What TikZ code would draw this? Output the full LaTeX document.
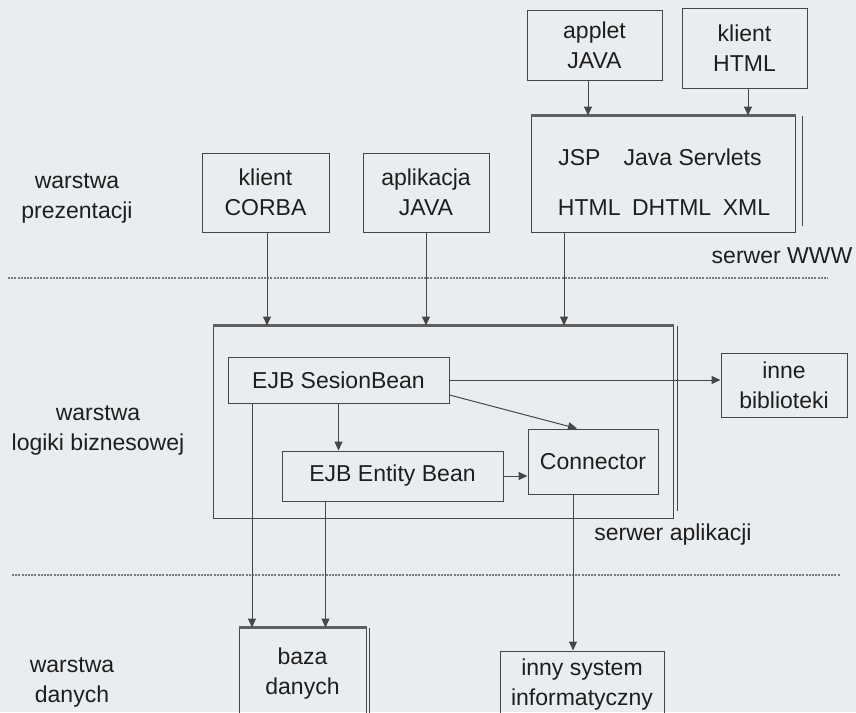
\documentclass[tikz,border=0pt]{standalone}
\usepackage{fontspec}
\setmainfont{Liberation Sans}
\usetikzlibrary{arrows.meta,calc}
\definecolor{bg}{RGB}{234,237,239}
\definecolor{ln}{RGB}{70,70,70}
\definecolor{tx}{RGB}{30,30,30}
\definecolor{topedge}{RGB}{95,95,95}
\definecolor{dotc}{RGB}{120,120,125}
\begin{document}
\begin{tikzpicture}[x=0.5pt,y=-0.5pt,
  every node/.style={font=\fontsize{11.5}{15}\selectfont, text=tx, align=center, inner sep=0pt},
  box/.style={draw=ln, line width=0.5pt},
  arr/.style={draw=ln, line width=0.5pt, -{Triangle[length=4.5pt,width=4pt]}},
  lay/.style={draw=dotc, line width=0.6pt, dash pattern=on 1pt off 0.6pt},
  heavy/.style={draw=topedge, line width=1.6pt},
  shadowline/.style={draw=ln, line width=0.5pt}]
\clip (0,0) rectangle (856,712);
\fill[bg] (0,0) rectangle (856,712);

% layer separators
\coordinate (d1a) at (8,278);
\coordinate (d1b) at (828,278);
\coordinate (d2a) at (12,575);
\coordinate (d2b) at (840,575);
\draw[lay] (d1a) -- (d1b);
\draw[lay] (d2a) -- (d2b);

% layer labels
\node (lp) at (77,198) {warstwa\\prezentacji};
\node (ll) at (98,430) {warstwa\\logiki biznesowej};
\node (ld) at (72,682) {warstwa\\danych};

% top clients
\node[box, minimum width=67.5pt, minimum height=35pt] (applet) at (594.5,45) {applet\\JAVA};
\node[box, minimum width=62.5pt, minimum height=40pt] (html) at (744.5,48) {klient\\HTML};

% web server
\node[box, minimum width=132pt, minimum height=58pt] (web) at (663,174) {};
\node (webt1) at (660,157) {JSP\quad Java Servlets};
\node (webt2) at (664,208) {HTML\enspace DHTML\enspace XML};
\draw[heavy] (web.north west) -- (web.north east);
\draw[shadowline] ($(web.north east)+(7,0)$) -- ($(web.south east)+(7,-7)$);
\node (wwwlbl) at (782,256) {serwer WWW};

% presentation clients
\node[box, minimum width=63.5pt, minimum height=39.5pt] (corba) at (265.5,192.5) {klient\\CORBA};
\node[box, minimum width=63pt, minimum height=39.5pt] (aplik) at (426,192.5) {aplikacja\\JAVA};

% application server
\node[box, minimum width=230pt, minimum height=96pt] (app) at (443,422) {};
\draw[heavy] (app.north west) -- (app.north east);
\draw[shadowline] ($(app.north east)+(4,0)$) -- ($(app.south east)+(4,-8)$);
\node (applbl) at (673,535) {serwer aplikacji};

\node[box, minimum width=110.5pt, minimum height=23pt] (sesion) at (338.5,380) {EJB SesionBean};
\node[box, minimum width=110.5pt, minimum height=25pt] (entity) at (392.5,476) {EJB Entity Bean};
\node[box, minimum width=65pt, minimum height=32.5pt] (conn) at (593,461.5) {Connector};
\node[box, minimum width=63pt, minimum height=32pt] (inne) at (784,385) {inne\\biblioteki};

% data layer
\node[box, minimum width=63.5pt, minimum height=46pt] (baza) at (302.5,674) {baza\\danych};
\draw[heavy] (baza.north west) -- (baza.north east);
\draw[shadowline] ($(baza.north east)+(3,0)$) -- ($(baza.south east)+(3,0)$);
\node[box, minimum width=82pt, minimum height=34pt] (inny) at (582,685) {inny system\\informatyczny};

% connectors
\draw[arr] ([xshift=-3.25pt]applet.south) -- ([xshift=-3.25pt]applet.south |- web.north);
\draw[arr] ([xshift=1.75pt]html.south) -- ([xshift=1.75pt]html.south |- web.north);
\draw[arr] ([xshift=0.75pt]corba.south) -- ([xshift=0.75pt]corba.south |- app.north);
\draw[arr] (aplik.south) -- (aplik.south |- app.north);
\draw[arr] ([xshift=-49.5pt]web.south) -- ([xshift=-49.5pt]web.south |- app.north);

\draw[arr] (sesion.south) -- (sesion.south |- entity.north);
\draw[arr] ([yshift=-7.5pt]sesion.east) -- ([xshift=-8pt]conn.north);
\draw[arr] (sesion.east) -- (sesion.east -| inne.west);
\draw[arr] (entity.east) -- (entity.east -| conn.west);

\draw[arr] ([xshift=-43.25pt]sesion.south) -- ([xshift=-43.25pt]sesion.south |- baza.north);
\draw[arr] ([xshift=-33.5pt]entity.south) -- ([xshift=-33.5pt]entity.south |- baza.north);
\draw[arr] ([xshift=-10pt]conn.south) -- ([xshift=-10pt]conn.south |- inny.north);
\end{tikzpicture}
\end{document}
